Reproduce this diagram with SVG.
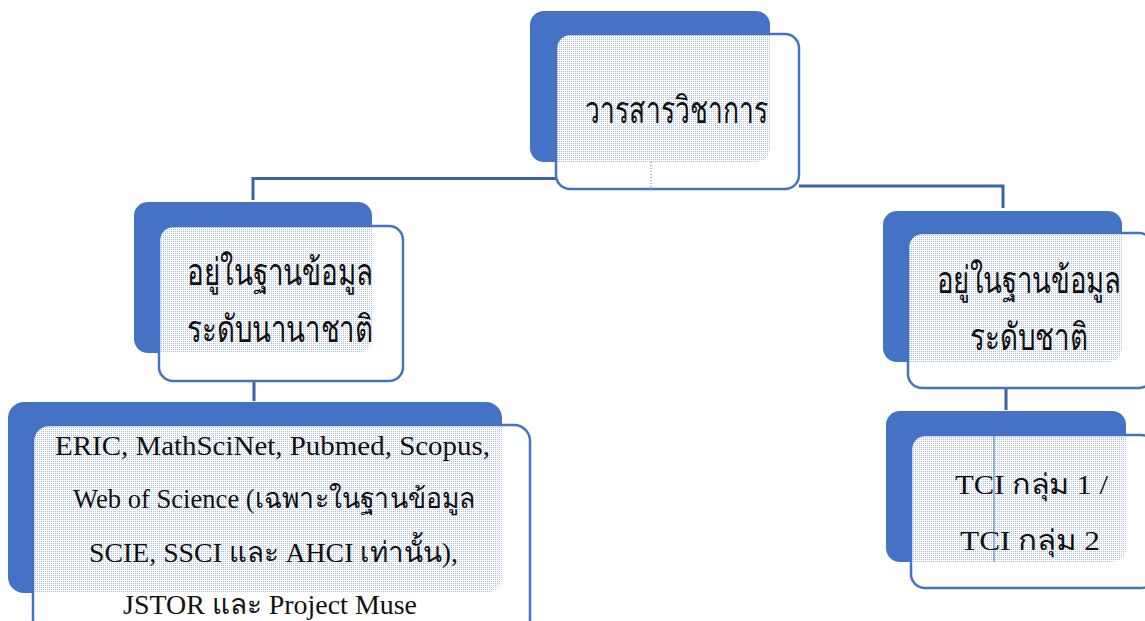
<svg xmlns="http://www.w3.org/2000/svg" width="1145" height="621" viewBox="0 0 1145 621">
<defs>
<pattern id="dots" x="0" y="0" width="2" height="2" patternUnits="userSpaceOnUse">
<rect x="0" y="0" width="2" height="1" fill="#ffffff"/>
<rect x="0" y="1" width="1" height="1" fill="#ffffff"/>
<rect x="1" y="1" width="1" height="1" fill="#ffffff" fill-opacity="0.55"/>
</pattern>
</defs>
<style>
.back{fill:#4472C4;}
.front{fill:url(#dots);stroke:#4472C4;stroke-width:2.5;}
.conn{fill:none;stroke:#3A62AC;stroke-width:3;}
.t{font-family:"Liberation Serif","Noto Sans CJK SC",serif;fill:#111111;}
.th{font-size:37px;}
.sm{font-size:28px;}
</style>
<rect width="1145" height="621" fill="#ffffff"/>
<g id="connectors">
<path class="conn" d="M556 178.5 H253 V200"/>
<path class="conn" d="M799 186 H1003 V208"/>
<path class="conn" d="M254 380 V401"/>
<path class="conn" d="M1006 388 V410"/>
</g>
<g id="node-journal">
<rect class="back" x="530" y="11" width="240" height="151" rx="14"/>
<rect class="front" x="556" y="34" width="243" height="155" rx="14"/>
<line x1="651" y1="162" x2="651" y2="189" stroke="#4472C4" stroke-width="1" stroke-dasharray="1 2"/>
<text class="t th" x="585" y="123" textLength="183" lengthAdjust="spacingAndGlyphs">วารสารวิชาการ</text>
</g>
<g id="node-international">
<rect class="back" x="134" y="202" width="238" height="151" rx="14"/>
<rect class="front" x="159" y="226" width="244" height="155" rx="14"/>
<text class="t th" x="187" y="285" textLength="186" lengthAdjust="spacingAndGlyphs">อยู่ในฐานข้อมูล</text>
<text class="t th" x="187" y="342" textLength="186" lengthAdjust="spacingAndGlyphs">ระดับนานาชาติ</text>
</g>
<g id="node-national">
<rect class="back" x="883" y="211" width="239" height="151" rx="14"/>
<rect class="front" x="908" y="233" width="245" height="155" rx="14"/>
<text class="t th" x="937" y="293" textLength="184" lengthAdjust="spacingAndGlyphs">อยู่ในฐานข้อมูล</text>
<text class="t th" x="970" y="350" textLength="118" lengthAdjust="spacingAndGlyphs">ระดับชาติ</text>
</g>
<g id="node-databases">
<rect class="back" x="8" y="402" width="494" height="191" rx="16"/>
<rect class="front" x="33" y="425" width="497" height="210" rx="16"/>
<text class="t sm" x="55" y="455" textLength="435" lengthAdjust="spacingAndGlyphs">ERIC, MathSciNet, Pubmed, Scopus,</text>
<text class="t sm" x="73" y="508" textLength="402" lengthAdjust="spacingAndGlyphs">Web of Science (เฉพาะในฐานข้อมูล</text>
<text class="t sm" x="89" y="562" textLength="369" lengthAdjust="spacingAndGlyphs">SCIE, SSCI และ AHCI เท่านั้น),</text>
<text class="t sm" x="123" y="614" textLength="294" lengthAdjust="spacingAndGlyphs">JSTOR และ Project Muse</text>
</g>
<g id="node-tci">
<rect class="back" x="886" y="411" width="240" height="151" rx="14"/>
<rect class="front" x="911" y="435" width="244" height="153" rx="14"/>
<line x1="994" y1="435" x2="994" y2="562" stroke="#4472C4" stroke-width="1"/>
<text class="t sm" x="955" y="494" textLength="153" lengthAdjust="spacingAndGlyphs">TCI กลุ่ม 1 /</text>
<text class="t sm" x="960" y="550" textLength="140" lengthAdjust="spacingAndGlyphs">TCI กลุ่ม 2</text>
</g>
</svg>
